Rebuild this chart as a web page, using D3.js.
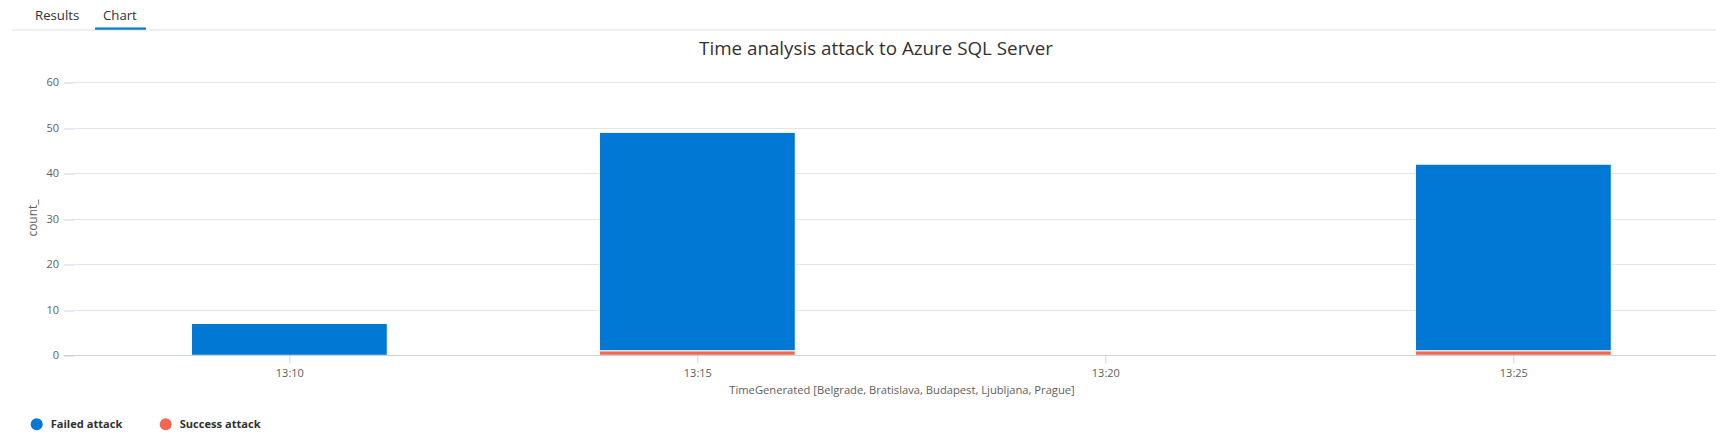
<!DOCTYPE html>
<html>
<head>
<meta charset="utf-8">
<script src="https://cdn.jsdelivr.net/npm/d3@7"></script>
<style>
  html, body { margin: 0; padding: 0; background: #fff; }
  svg { display: block; }
  text { font-family: "Segoe UI", "Open Sans", "Noto Sans", sans-serif; }
</style>
</head>
<body>
<svg id="chart" width="1716" height="439"></svg>
<script>
// ---- data ----
const categories = ["13:10", "13:15", "13:20", "13:25"];
const failedAttack = [7, 48, 0, 41];
const successAttack = [0, 1, 0, 1];
const seriesNames = ["Failed attack", "Success attack"];
const yTicks = [0, 10, 20, 30, 40, 50, 60];
const tabs = ["Results", "Chart"];
const titleText = "Time analysis attack to Azure SQL Server";
const xLabel = "TimeGenerated [Belgrade, Bratislava, Budapest, Ljubljana, Prague]";
const yLabel = "count_";

// ---- setup ----
const W = 1716, H = 439;
const colors = ["#0078d4", "#ef6950"];
const svg = d3.select("#chart");
const parse = d3.timeParse("%H:%M");
const times = categories.map(parse);

const plotLeft = 64, plotRight = 1716, plotTop = 82.3, plotBottom = 355.3;

const x = d3.scaleTime()
  .domain([new Date(times[0].getTime() - 165.7 * 1000), new Date(times[3].getTime() + 149 * 1000)])
  .range([plotLeft, plotRight]);
const y = d3.scaleLinear().domain([0, 60]).range([plotBottom, plotTop]);

// ---- tabs ----
svg.append("line").attr("x1", 12).attr("x2", W).attr("y1", 30).attr("y2", 30)
  .attr("stroke", "#e1dfdd").attr("stroke-width", 1);
const tabX = [35, 103];
tabs.forEach((t, i) => {
  svg.append("text").attr("x", tabX[i]).attr("y", 20)
    .attr("font-size", 13.2).attr("fill", "#323130").text(t);
});
svg.append("rect").attr("x", 95).attr("y", 27.5).attr("width", 51).attr("height", 2.2).attr("fill", "#0078d4");

// ---- title ----
svg.append("text").attr("x", 876).attr("y", 55).attr("text-anchor", "middle")
  .attr("font-size", 18.8).attr("fill", "#323130").text(titleText);

// ---- gridlines ----
const grid = svg.append("g");
grid.selectAll("line.grid").data(yTicks).join("line")
  .attr("class", "grid")
  .attr("x1", plotLeft + 10).attr("x2", plotRight)
  .attr("y1", d => Math.round(y(d)) + 0.5).attr("y2", d => Math.round(y(d)) + 0.5)
  .attr("stroke", d => d === 0 ? "#ccd1dc" : "#e5e5e5").attr("stroke-width", 1);

// y axis
const yAxis = svg.append("g").attr("transform", `translate(${plotLeft + 10},0)`)
  .call(d3.axisLeft(y).tickValues(yTicks).tickSize(10).tickPadding(5));
yAxis.select(".domain").remove();
yAxis.selectAll(".tick line").attr("stroke", "#c9d3ea")
  .attr("transform", d => `translate(0,${Math.round(y(d)) + 0.5 - y(d)})`);
yAxis.selectAll(".tick text").attr("fill", "#605e5c").attr("font-size", 11)
  .style("font-family", '"Segoe UI", "Open Sans", "Noto Sans", sans-serif');

// ---- bars ----
const step = x(times[1]) - x(times[0]);
const barW = step * 0.48;
const stackData = categories.map((c, i) => ({ t: times[i], failed: failedAttack[i], success: successAttack[i] }));
const stack = d3.stack().keys(["success", "failed"])(stackData);
const keyColor = { failed: colors[0], success: colors[1] };
svg.append("g").selectAll("g").data(stack).join("g")
  .attr("fill", d => keyColor[d.key])
  .selectAll("rect").data(d => d.filter(p => p[1] - p[0] > 0)).join("rect")
  .attr("x", d => x(d.data.t) - barW / 2)
  .attr("width", barW)
  .attr("y", d => y(d[1]))
  .attr("height", d => y(d[0]) - y(d[1]))
  .attr("stroke", "#fff").attr("stroke-width", 1);

// x axis
const xAxis = svg.append("g").attr("transform", `translate(0,${Math.round(plotBottom) + 0.5})`)
  .call(d3.axisBottom(x).tickValues(times).tickFormat(d3.timeFormat("%H:%M")).tickSize(8).tickPadding(6));
xAxis.select(".domain").attr("d", `M${plotLeft},0H${plotRight}`).attr("stroke", "#ccd1dc");
xAxis.selectAll(".tick line").attr("stroke", "#ccd1dc");
xAxis.selectAll(".tick text").attr("fill", "#605e5c").attr("font-size", 11)
  .style("font-family", '"Segoe UI", "Open Sans", "Noto Sans", sans-serif');

// axis labels
svg.append("text").attr("x", 902).attr("y", 394).attr("text-anchor", "middle")
  .attr("font-size", 11.2).attr("fill", "#605e5c").text(xLabel);
svg.append("text").attr("transform", "translate(37,218) rotate(-90)").attr("text-anchor", "middle")
  .attr("font-size", 12).attr("fill", "#605e5c").text(yLabel);

// ---- legend ----
const legX = [36.7, 165.7];
const leg = svg.append("g");
seriesNames.forEach((n, i) => {
  leg.append("circle").attr("cx", legX[i]).attr("cy", 424.3).attr("r", 6).attr("fill", colors[i]);
  leg.append("text").attr("x", legX[i] + 14).attr("y", 428.3).attr("font-size", 11.1)
    .attr("font-weight", "bold").attr("fill", "#323130").text(n);
});
</script>
</body>
</html>
